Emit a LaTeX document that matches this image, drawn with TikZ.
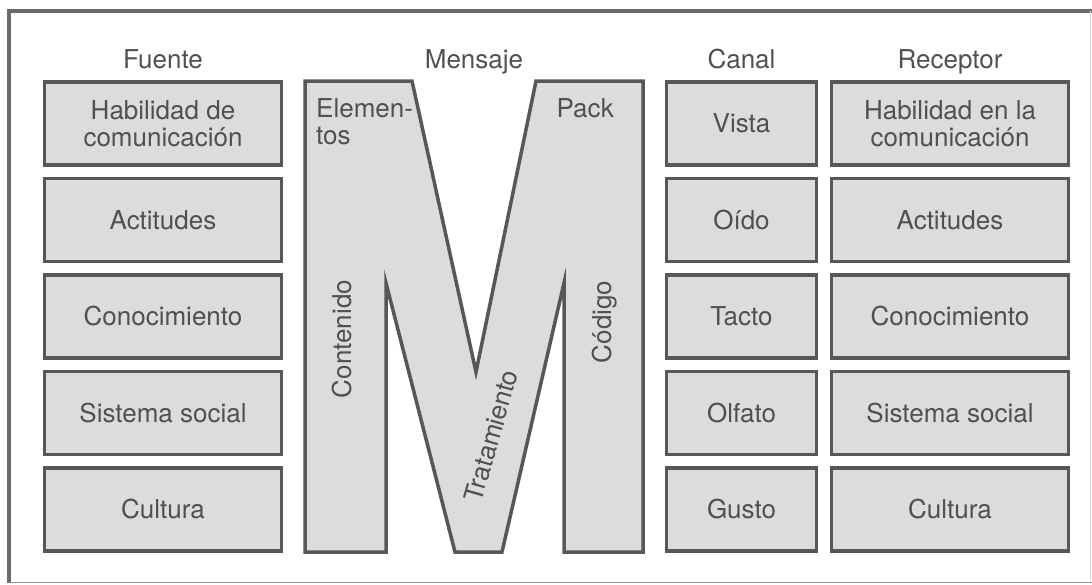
\documentclass[tikz,border=0pt]{standalone}
\usepackage{fontspec}
\setmainfont{TeX Gyre Heros}
\definecolor{ink}{HTML}{505050}
\definecolor{edge}{HTML}{575757}
\definecolor{paper}{HTML}{DCDCDC}
\definecolor{framec}{HTML}{6A6A6A}
\tikzset{
  lbl/.style={text=ink, font=\fontsize{26}{27}\selectfont, inner sep=0pt},
  cell/.style={lbl, draw=edge, line width=3.5pt, fill=paper, align=center,
    minimum height=83pt},
  widecell/.style={cell, minimum width=237pt},
  narrowcell/.style={cell, minimum width=150pt},
  head/.style={lbl, anchor=base},
}
\begin{document}
\begin{tikzpicture}[x=1pt, y=-1pt]
\useasboundingbox (0,0) rectangle (1092,584);

% outer frame
\draw[framec, line width=3.5pt] (1092,11) -- (9,11) -- (9,582.5);
\draw[framec!70, line width=1.5pt] (9,582.5) -- (1092,582.5);
\draw[framec!25, line width=1pt] (1090,11) -- (1090,582);

% column headings
\node[head] (hf) at (163,68) {Fuente};
\node[head] (hm) at (474,68) {Mensaje};
\node[head] (hc) at (741.5,68) {Canal};
\node[head] (hr) at (950,68) {Receptor};

% source column
\node[widecell] (f1) at (163,123.5) {Habilidad de\\comunicación};
\node[widecell] (f2) at (163,220) {Actitudes};
\node[widecell] (f3) at (163,316.5) {Conocimiento};
\node[widecell] (f4) at (163,413) {Sistema social};
\node[widecell] (f5) at (163,509.5) {Cultura};

% channel column
\node[narrowcell] (c1) at (741.5,123.5) {Vista};
\node[narrowcell] (c2) at (741.5,220) {Oído};
\node[narrowcell] (c3) at (741.5,316.5) {Tacto};
\node[narrowcell] (c4) at (741.5,413) {Olfato};
\node[narrowcell] (c5) at (741.5,509.5) {Gusto};

% receiver column
\node[widecell] (r1) at (950,123.5) {Habilidad en la\\comunicación};
\node[widecell] (r2) at (950,220) {Actitudes};
\node[widecell] (r3) at (950,316.5) {Conocimiento};
\node[widecell] (r4) at (950,413) {Sistema social};
\node[widecell] (r5) at (950,509.5) {Cultura};

% the message letter M
\draw[edge, line width=3.5pt, fill=paper, line join=miter]
  (305,81) -- (412,81) -- (476,372) -- (536,81) -- (643,81) -- (643,552)
  -- (564,552) -- (564,283) -- (502,552) -- (455,552) -- (386,283)
  -- (386,552) -- (305,552) -- cycle;

\node[lbl, anchor=north west, align=left] (mel) at (316,98) {Elemen-\\tos};
\node[lbl, anchor=north east] (mpk) at (614,98) {Pack};
\node[lbl, rotate=90] (mco) at (342,339) {Contenido};
\node[lbl, rotate=90] (mcd) at (605,322) {Código};
\node[lbl, rotate=74] (mtr) at (491,436) {Tratamiento};
\end{tikzpicture}
\end{document}
